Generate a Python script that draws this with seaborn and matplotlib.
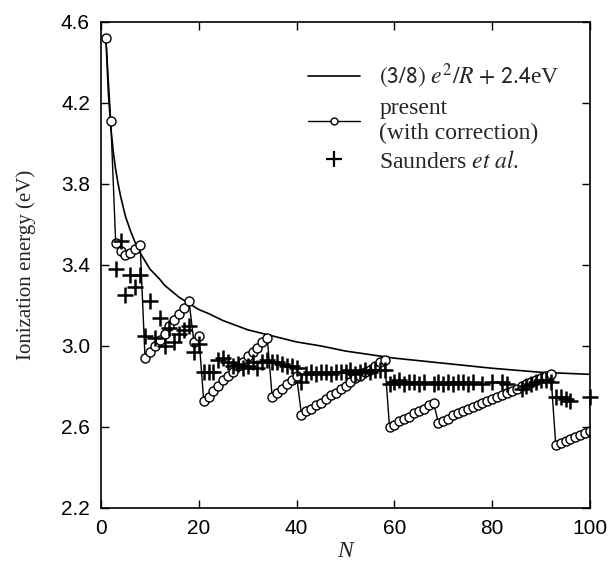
import numpy as np
import pandas as pd
import matplotlib
matplotlib.use("Agg")
import matplotlib.pyplot as plt
from matplotlib.lines import Line2D
import seaborn as sns

# Classical curve (3/8) e^2/R + 2.4 eV
curve_n = [1, 1.5, 2, 2.5, 3, 3.5, 4, 5, 6, 7, 8, 9, 10, 11, 12, 13, 14, 15, 16, 17, 18, 20, 22, 25,
           30, 35, 40, 45, 50, 60, 70, 80, 90, 100]
curve_ie = [4.52, 4.25, 4.08, 3.96, 3.87, 3.80, 3.74, 3.64, 3.57, 3.51, 3.46, 3.42, 3.38, 3.355,
            3.33, 3.30, 3.28, 3.26, 3.24, 3.225, 3.21, 3.18, 3.16, 3.125,
            3.08, 3.05, 3.02, 3.0, 2.975, 2.94, 2.915, 2.89, 2.87, 2.86]

# present calculation (with correction), N = 1..100
present_n = list(range(1, 101))
present_ie = [
    4.52, 4.11, 3.51, 3.47, 3.45, 3.46, 3.48, 3.50,                    # 1-8
    2.94, 2.97, 3.00, 3.03, 3.06, 3.10, 3.13, 3.16, 3.19, 3.22,        # 9-18
    3.02, 3.05,                                                        # 19-20
    2.73, 2.75, 2.78, 2.80, 2.83, 2.85, 2.87, 2.90, 2.92, 2.95,        # 21-30
    2.97, 2.99, 3.02, 3.04,                                            # 31-34
    2.75, 2.77, 2.79, 2.81, 2.83, 2.85,                                # 35-40
    2.66, 2.68, 2.69, 2.71, 2.72, 2.74, 2.76, 2.77, 2.79, 2.80,        # 41-50
    2.82, 2.84, 2.85, 2.87, 2.88, 2.90, 2.92, 2.93,                    # 51-58
    2.60, 2.61, 2.63, 2.64, 2.65, 2.67, 2.68, 2.69, 2.71, 2.72,        # 59-68
    2.62, 2.63, 2.64, 2.66, 2.67, 2.68, 2.69, 2.70, 2.71, 2.72,        # 69-78
    2.73, 2.74, 2.75, 2.76, 2.77, 2.78, 2.79, 2.80, 2.81, 2.82,        # 79-88
    2.83, 2.84, 2.85, 2.86,                                            # 89-92
    2.51, 2.52, 2.53, 2.54, 2.55, 2.56, 2.57, 2.58,                    # 93-100
]

# Saunders et al. (experiment)
saunders_n = [3, 4, 5, 6, 7, 8, 9, 10, 11, 12, 13, 14, 15, 16, 17, 18, 19, 20,
              21, 22, 23, 24, 25, 26, 27, 28, 29, 30, 31, 32, 33, 34, 35, 36, 37, 38, 39, 40,
              41, 42, 43, 44, 45, 46, 47, 48, 49, 50, 51, 52, 53, 54, 55, 56, 57, 58,
              59, 60, 61, 62, 63, 64, 65, 66, 68, 69, 70, 71, 72, 73, 74, 75, 76, 78, 80,
              82, 83, 86, 87, 88, 89, 90, 91, 92, 93, 94, 95, 96, 100]
saunders_ie = [3.38, 3.52, 3.25, 3.35, 3.29, 3.35, 3.05, 3.22, 3.04, 3.14, 3.00, 3.09, 3.02, 3.06,
               3.08, 3.10, 2.97, 3.01,
               2.87, 2.87, 2.87, 2.93, 2.94, 2.92, 2.90, 2.91, 2.89, 2.90, 2.92, 2.89, 2.92, 2.93,
               2.92, 2.92, 2.91, 2.90, 2.90, 2.89,
               2.82, 2.86, 2.87, 2.86, 2.87, 2.87, 2.86, 2.87, 2.87, 2.87, 2.88, 2.86, 2.87, 2.88,
               2.87, 2.88, 2.88, 2.88,
               2.81, 2.82, 2.83, 2.81, 2.82, 2.82, 2.81, 2.82, 2.81, 2.82, 2.81, 2.82, 2.81, 2.82,
               2.82, 2.81, 2.82, 2.81, 2.82,
               2.82, 2.81, 2.79, 2.80, 2.81, 2.82, 2.83, 2.83, 2.82, 2.75, 2.75, 2.74, 2.73, 2.75]

x_ticks = [0, 20, 40, 60, 80, 100]
y_ticks = [2.2, 2.6, 3.0, 3.4, 3.8, 4.2, 4.6]

sns.set_style("ticks")
plt.rcParams["font.family"] = ["Liberation Sans", "DejaVu Sans"]
plt.rcParams["mathtext.fontset"] = "stix"

fig = plt.figure(figsize=(6.1, 5.77), dpi=100)
ax = fig.add_axes([0.1656, 0.1196, 0.8016, 0.8423])

sns.lineplot(x=curve_n, y=curve_ie, ax=ax, color="black", linewidth=1.2)
sns.lineplot(x=present_n, y=present_ie, ax=ax, color="black", linewidth=1.0,
             marker="o", markersize=6.5, markerfacecolor="white",
             markeredgecolor="black", markeredgewidth=1.0)
sns.scatterplot(x=saunders_n, y=saunders_ie, ax=ax, marker="+", color="black",
                s=120, linewidth=1.8, clip_on=False, zorder=4)

ax.set_xlim(0, 100)
ax.set_ylim(2.2, 4.6)
ax.set_xticks(x_ticks)
ax.set_yticks(y_ticks)
ax.set_yticklabels([f"{v:.1f}" for v in y_ticks])
ax.tick_params(direction="in", top=True, right=True, length=6, width=1.0,
               labelsize=15, pad=8, colors="black")
for s in ax.spines.values():
    s.set_linewidth(1.2)
    s.set_color("black")

ax.set_xlabel("N", fontsize=17, family="Liberation Serif", style="italic", labelpad=2)
ax.set_ylabel("Ionization energy (eV)", fontsize=15, family="Liberation Serif", labelpad=18)

handles = [
    Line2D([], [], color="black", linewidth=1.2),
    Line2D([], [], color="black", linewidth=1.0, marker="o", markersize=5,
           markerfacecolor="white", markeredgecolor="black"),
    Line2D([], [], color="black", linestyle="none", marker="+", markersize=11, markeredgewidth=1.6),
]
labels = [r"$\mathsf{(3/8)}\ e^2/R\ \mathsf{+\ 2.4}$eV", "present\n(with correction)",
          r"Saunders $et\ al$."]
leg = ax.legend(handles, labels, loc="upper left", bbox_to_anchor=(0.405, 0.937), frameon=False,
                prop={"family": "Liberation Serif", "size": 17}, handlelength=2.2,
                labelspacing=0.3, handletextpad=0.8, borderaxespad=0)

fig.savefig("out.png", dpi=100)
